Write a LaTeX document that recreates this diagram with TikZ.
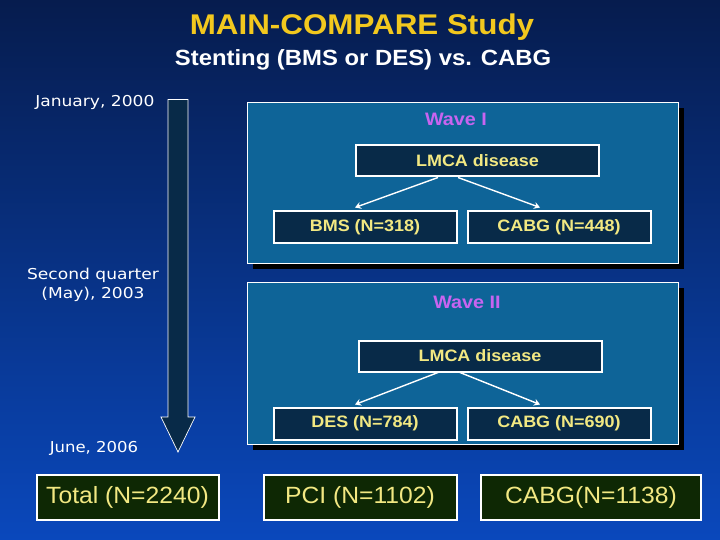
\documentclass[tikz,border=0pt]{standalone}
\usepackage{fontspec}
\setmainfont{Liberation Sans}
\newfontfamily\verd{DejaVu Sans}
\usetikzlibrary{calc,arrows.meta}
\definecolor{bgtop}{RGB}{6,28,78}
\definecolor{bgbot}{RGB}{10,72,188}
\definecolor{wavefill}{RGB}{14,100,152}
\definecolor{innerfill}{RGB}{8,42,72}
\definecolor{greenfill}{RGB}{14,40,4}
\definecolor{txtyellow}{RGB}{242,232,130}
\definecolor{titlegold}{RGB}{242,200,30}
\definecolor{wavepurple}{RGB}{200,100,240}
\newcommand\sx[2][1.09]{\scalebox{#1}[1]{#2}}
\tikzset{
  wavebox/.style={draw=white, line width=0.8pt, fill=wavefill, inner sep=0pt},
  innerbox/.style={draw=white, line width=2pt, fill=innerfill, inner sep=0pt, text=txtyellow,
     font=\fontsize{16.5}{19}\selectfont\bfseries},
  totbox/.style={draw=white, line width=2pt, fill=greenfill, inner sep=0pt, text=txtyellow,
     font=\fontsize{23.5}{27}\selectfont},
  wavelbl/.style={text=wavepurple, font=\fontsize{18}{21}\selectfont\bfseries},
  datelbl/.style={text=white, font=\verd\fontsize{15}{19}\selectfont, align=center},
  conn/.style={draw=white, line width=1.4pt, -{Stealth[length=6pt,width=7pt]}},
}
\begin{document}
\begin{tikzpicture}[x=1pt,y=-1pt]
\useasboundingbox (0,0) rectangle (720,540);
\shade[top color=bgtop, bottom color=bgbot] (0,0) rectangle (720,540);

% titles
\node[text=titlegold, font=\fontsize{28.5}{33}\selectfont\bfseries] (title) at (362,27) {\sx[1.1]{MAIN-COMPARE Study}};
\node[text=white, font=\fontsize{22}{26}\selectfont\bfseries] (sub) at (363,60) {\sx[1.085]{Stenting (BMS or DES) vs. CABG}};

% timeline labels
\node[datelbl, anchor=east] (jan) at (158,102) {\sx[1.14]{January, 2000}};
\node[datelbl] (may) at (93,285) {\sx[1.14]{Second quarter}\\\sx[1.14]{(May), 2003}};
\node[datelbl] (june) at (94,448) {\sx[1.1]{June, 2006}};

% timeline arrow
\draw[white, line width=0.7pt, fill=innerfill]
  (168,99.5) -- (188,99.5) -- (188,417) -- (195,417) -- (178,452) -- (161,417) -- (168,417) -- cycle;

% wave I
\fill[black] (253,108) rectangle (684,269);
\node[wavebox, minimum width=431pt, minimum height=161pt] (wave1) at (462.5,182.5) {};
\node[wavelbl] (w1lbl) at (456,119) {\sx[1.1]{Wave I}};
\node[innerbox, minimum width=243pt, minimum height=31pt] (lmca1) at (477.5,161) {\sx{LMCA disease}};
\node[innerbox, minimum width=183pt, minimum height=31pt] (bms) at (365,227) {\sx{BMS (N=318)}};
\node[innerbox, minimum width=183pt, minimum height=31pt] (cabg1) at (559,227) {\sx{CABG (N=448)}};
\draw[conn] ($(lmca1.south)+(-39.5,0)$) -- ($(bms.north)+(-10,-3)$);
\draw[conn] ($(lmca1.south)+(-19.5,0)$) -- ($(cabg1.north)+(-19,-3)$);

% wave II
\fill[black] (253,288) rectangle (684,450);
\node[wavebox, minimum width=431pt, minimum height=162pt] (wave2) at (462.5,363) {};
\node[wavelbl] (w2lbl) at (467,302) {\sx[1.1]{Wave II}};
\node[innerbox, minimum width=243pt, minimum height=31pt] (lmca2) at (480,356) {\sx{LMCA disease}};
\node[innerbox, minimum width=183pt, minimum height=32pt] (des) at (365,423.5) {\sx{DES (N=784)}};
\node[innerbox, minimum width=183pt, minimum height=32pt] (cabg2) at (559,423.5) {\sx{CABG (N=690)}};
\draw[conn] ($(lmca2.south)+(-42,0)$) -- ($(des.north)+(-10,-2)$);
\draw[conn] ($(lmca2.south)+(-20,0)$) -- ($(cabg2.north)+(-19,-2)$);

% totals
\node[totbox, minimum width=182pt, minimum height=45pt] (total) at (127.5,497.5) {\sx[1.05]{Total (N=2240)}};
\node[totbox, minimum width=193pt, minimum height=45pt] (pci) at (360,497.5) {\sx[1.05]{PCI (N=1102)}};
\node[totbox, minimum width=220pt, minimum height=45pt] (cabgt) at (591,497.5) {\sx[1.05]{CABG(N=1138)}};
\end{tikzpicture}
\end{document}
